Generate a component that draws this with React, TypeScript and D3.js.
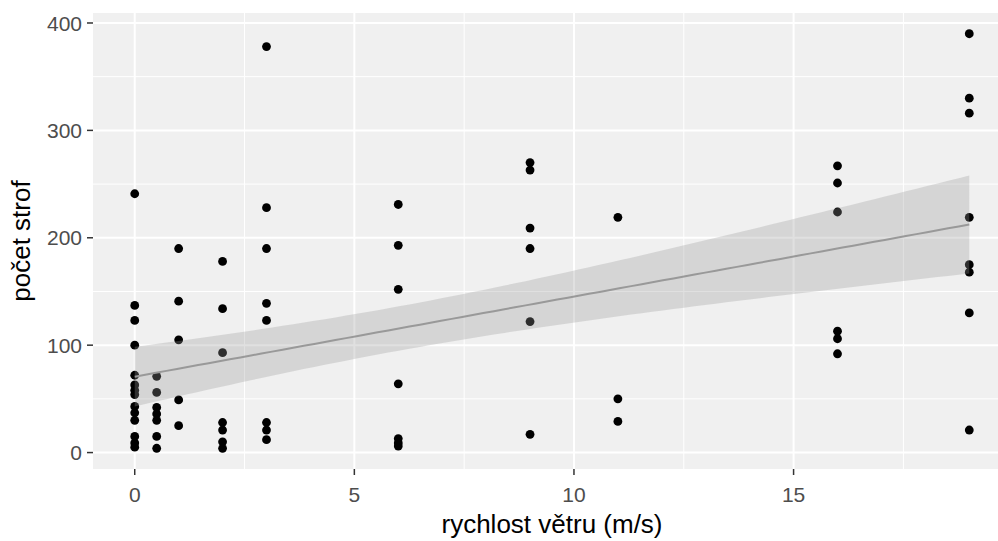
import React from "react";
import * as d3 from "d3";

// wind speed (m/s) groups and the counts observed at each
const windSpeeds = [0, 0.5, 1, 2, 3, 6, 9, 11, 16, 19];
const countsBySpeed: number[][] = [
  [241, 137, 123, 100, 72, 63, 58, 54, 43, 37, 30, 15, 9, 5],
  [71, 56, 42, 36, 30, 15, 4],
  [190, 141, 105, 49, 25],
  [178, 134, 93, 28, 21, 10, 4],
  [378, 228, 190, 139, 123, 28, 21, 12],
  [231, 193, 152, 64, 13, 9, 6],
  [270, 263, 209, 190, 122, 17],
  [219, 50, 29],
  [267, 251, 224, 113, 106, 92],
  [390, 330, 316, 219, 175, 168, 130, 21],
];
const xTicks = [0, 5, 10, 15];
const xMinor = [2.5, 7.5, 12.5, 17.5];
const yTicks = [0, 100, 200, 300, 400];
const yMinor = [50, 150, 250, 350];
const xTitle = "rychlost větru (m/s)";
const yTitle = "počet strof";

type Pt = { x: number; y: number };
const points: Pt[] = windSpeeds.flatMap((s, i) => countsBySpeed[i].map((c) => ({ x: s, y: c })));

const W = 998;
const H = 541;
const panel = { left: 93, right: 1011, top: 13, bottom: 469 };
const FONT = "'Liberation Sans', Arial, sans-serif";

function expand(ext: [number, number]): [number, number] {
  const r = ext[1] - ext[0];
  return [ext[0] - 0.05 * r, ext[1] + 0.05 * r];
}

export default function App() {
  const xExt = d3.extent(points, (d) => d.x) as [number, number];
  const yExt = d3.extent(points, (d) => d.y) as [number, number];
  const x = d3.scaleLinear().domain(expand(xExt)).range([panel.left, panel.right]);
  const y = d3.scaleLinear().domain(expand(yExt)).range([panel.bottom, panel.top]);

  // linear model fit with 95% confidence band (as geom_smooth(method = "lm"))
  const n = points.length;
  const mx = d3.mean(points, (d) => d.x)!;
  const my = d3.mean(points, (d) => d.y)!;
  const sxx = d3.sum(points, (d) => (d.x - mx) ** 2);
  const sxy = d3.sum(points, (d) => (d.x - mx) * (d.y - my));
  const b = sxy / sxx;
  const a = my - b * mx;
  const sse = d3.sum(points, (d) => (d.y - (a + b * d.x)) ** 2);
  const s = Math.sqrt(sse / (n - 2));
  const tq = 1.995;
  const grid = d3.range(80).map((i) => xExt[0] + (i * (xExt[1] - xExt[0])) / 79);
  const fit = grid.map((gx) => {
    const yh = a + b * gx;
    const se = s * Math.sqrt(1 / n + (gx - mx) ** 2 / sxx);
    return { x: gx, y: yh, lo: yh - tq * se, hi: yh + tq * se };
  });
  const area = d3
    .area<(typeof fit)[number]>()
    .x((d) => x(d.x))
    .y0((d) => y(d.lo))
    .y1((d) => y(d.hi));
  const line = d3
    .line<(typeof fit)[number]>()
    .x((d) => x(d.x))
    .y((d) => y(d.y));

  const pw = panel.right - panel.left;
  const ph = panel.bottom - panel.top;
  const cx = (panel.left + panel.right) / 2;
  const cy = (panel.top + panel.bottom) / 2;

  return (
    <svg width={W} height={H} style={{ position: "absolute", left: 0, top: 0, display: "block" }}>
      <rect x={0} y={0} width={W} height={H} fill="#ffffff" />
      <rect x={panel.left} y={panel.top} width={pw} height={ph} fill="#f0f0f0" />
      {xMinor.map((t) => (
        <line key={"xm" + t} x1={x(t)} x2={x(t)} y1={panel.top} y2={panel.bottom} stroke="#fff" strokeWidth={1} />
      ))}
      {yMinor.map((t) => (
        <line key={"ym" + t} x1={panel.left} x2={panel.right} y1={y(t)} y2={y(t)} stroke="#fff" strokeWidth={1} />
      ))}
      {xTicks.map((t) => (
        <line key={"xg" + t} x1={x(t)} x2={x(t)} y1={panel.top} y2={panel.bottom} stroke="#fff" strokeWidth={2} />
      ))}
      {yTicks.map((t) => (
        <line key={"yg" + t} x1={panel.left} x2={panel.right} y1={y(t)} y2={y(t)} stroke="#fff" strokeWidth={2} />
      ))}
      {points.map((p, i) => (
        <circle key={i} cx={x(p.x)} cy={y(p.y)} r={4.4} fill="#000" />
      ))}
      <path d={area(fit)!} fill="#999999" fillOpacity={0.3} />
      <path d={line(fit)!} fill="none" stroke="#999999" strokeWidth={2} />
      {/* axes ticks and labels */}
      {yTicks.map((t) => (
        <g key={"yt" + t}>
          <line x1={panel.left - 6} x2={panel.left} y1={y(t)} y2={y(t)} stroke="#333" strokeWidth={1.5} />
          <text
            x={panel.left - 11}
            y={y(t)}
            dy="0.36em"
            textAnchor="end"
            fontFamily={FONT}
            fontSize={21}
            fill="#4d4d4d"
          >
            {t}
          </text>
        </g>
      ))}
      {xTicks.map((t) => (
        <g key={"xt" + t}>
          <line x1={x(t)} x2={x(t)} y1={panel.bottom} y2={panel.bottom + 6} stroke="#333" strokeWidth={1.5} />
          <text x={x(t)} y={502} textAnchor="middle" fontFamily={FONT} fontSize={21} fill="#4d4d4d">
            {t}
          </text>
        </g>
      ))}
      <text x={cx} y={533} textAnchor="middle" fontFamily={FONT} fontSize={26} fill="#000">
        {xTitle}
      </text>
      <text
        transform={`translate(30,${cy}) rotate(-90)`}
        textAnchor="middle"
        fontFamily={FONT}
        fontSize={26}
        fill="#000"
      >
        {yTitle}
      </text>
    </svg>
  );
}
